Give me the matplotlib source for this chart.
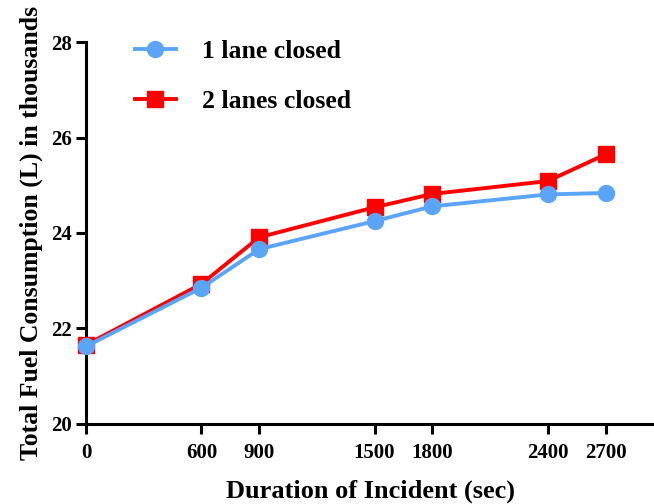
import matplotlib.pyplot as plt

duration = [0, 600, 900, 1500, 1800, 2400, 2700]
one_lane = [21.62, 22.85, 23.66, 24.25, 24.56, 24.81, 24.84]
two_lanes = [21.65, 22.93, 23.91, 24.54, 24.82, 25.09, 25.65]

plt.rcParams['font.family'] = ['Liberation Serif', 'DejaVu Serif']
plt.rcParams['font.weight'] = 'bold'

fig = plt.figure(figsize=(6.54, 5.04), dpi=100)
ax = fig.add_axes([0.1315, 0.1597, 0.8685, 0.756])

ax.plot(duration, one_lane, '-o', color='#5aa5f7', lw=2.8, ms=11.5,
        label='1 lane closed', clip_on=False, zorder=4)
ax.plot(duration, two_lanes, '-s', color='#ff0000', lw=2.8, ms=11,
        label='2 lanes closed', clip_on=False, zorder=3)

ax.set_xlim(0, 2952)
ax.set_ylim(20, 28)
ax.set_xticks(duration)
ax.set_yticks([20, 22, 24, 26, 28])
ax.tick_params(labelsize=15, width=2.2, length=7)
ax.tick_params(axis='x', pad=7)
ax.tick_params(axis='y', pad=3)

for s in ['top', 'right']:
    ax.spines[s].set_visible(False)
for s in ['left', 'bottom']:
    ax.spines[s].set_linewidth(2.2)

ax.set_xlabel('Duration of Incident (sec)', fontsize=19, fontweight='bold', labelpad=12)
ax.set_ylabel('Total Fuel Consumption (L) in thousands', fontsize=18.5,
              fontweight='bold', labelpad=6)

ax.legend(loc='upper left', bbox_to_anchor=(0.086, 1.006), frameon=False,
          borderpad=0, borderaxespad=0,
          labelspacing=1.05, handlelength=1.6, handletextpad=1.0,
          prop={'weight': 'bold', 'size': 18.5})

fig.savefig('out.png', dpi=100)
